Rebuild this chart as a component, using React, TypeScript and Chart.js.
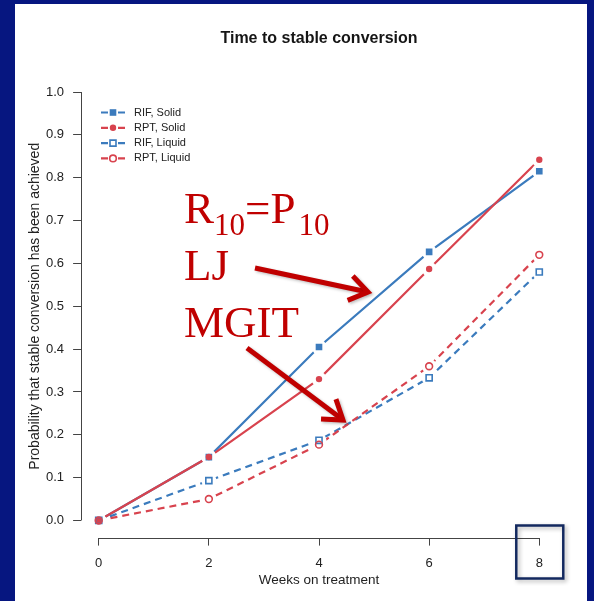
import React, { useEffect, useRef } from 'react';
import { Chart, registerables } from 'chart.js';

Chart.register(...registerables);

// ---- data ----
const weeks = [0, 2, 4, 6, 8];
const rifSolid = [0.0, 0.148, 0.405, 0.627, 0.815];
const rptSolid = [0.0, 0.148, 0.33, 0.587, 0.842];
const rifLiquid = [0.0, 0.093, 0.187, 0.333, 0.58];
const rptLiquid = [0.0, 0.05, 0.177, 0.36, 0.62];
const seriesLabels = ['RIF, Solid', 'RPT, Solid', 'RIF, Liquid', 'RPT, Liquid'];
const xTickValues = [0, 2, 4, 6, 8];
const yTickValues = [0, 0.1, 0.2, 0.3, 0.4, 0.5, 0.6, 0.7, 0.8, 0.9, 1.0];
const chartTitle = 'Time to stable conversion';
const xTitle = 'Weeks on treatment';
const yTitle = 'Probability that stable conversion has been achieved';
const annotationLines = ['LJ', 'MGIT'];

// ---- styles ----
const BLUE = '#3b7bbd';
const RED = '#d8434e';
const ANN_RED = '#c00000';
const SANS = '"Liberation Sans", Arial, sans-serif';
const SERIF = '"Liberation Serif", "Times New Roman", serif';

type Series = { label: string; values: number[]; color: string; dashed: boolean; shape: 'rect' | 'circle'; filled: boolean };
const series: Series[] = [
  { label: seriesLabels[0], values: rifSolid, color: BLUE, dashed: false, shape: 'rect', filled: true },
  { label: seriesLabels[1], values: rptSolid, color: RED, dashed: false, shape: 'circle', filled: true },
  { label: seriesLabels[2], values: rifLiquid, color: BLUE, dashed: true, shape: 'rect', filled: false },
  { label: seriesLabels[3], values: rptLiquid, color: RED, dashed: true, shape: 'circle', filled: false },
];

function drawMarker(ctx: CanvasRenderingContext2D, s: Series, x: number, y: number) {
  ctx.save();
  ctx.setLineDash([]);
  ctx.lineWidth = 1.6;
  ctx.strokeStyle = s.color;
  ctx.fillStyle = s.color;
  ctx.beginPath();
  if (s.shape === 'rect') {
    const h = s.filled ? 3.3 : 3;
    ctx.rect(x - h, y - h, 2 * h, 2 * h);
  } else {
    ctx.arc(x, y, s.filled ? 3.2 : 3.3, 0, Math.PI * 2);
  }
  if (s.filled) ctx.fill();
  else ctx.stroke();
  ctx.restore();
}

function arrow(ctx: CanvasRenderingContext2D, x1: number, y1: number, x2: number, y2: number) {
  const a = Math.atan2(y2 - y1, x2 - x1);
  const L = 22;
  const sp = 0.6;
  ctx.beginPath();
  ctx.moveTo(x1, y1);
  ctx.lineTo(x2 - 1.5 * Math.cos(a), y2 - 1.5 * Math.sin(a));
  ctx.stroke();
  ctx.beginPath();
  ctx.moveTo(x2 - L * Math.cos(a - sp), y2 - L * Math.sin(a - sp));
  ctx.lineTo(x2, y2);
  ctx.lineTo(x2 - L * Math.cos(a + sp), y2 - L * Math.sin(a + sp));
  ctx.stroke();
}

export default function App() {
  const ref = useRef<HTMLCanvasElement | null>(null);

  useEffect(() => {
    const canvas = ref.current;
    if (!canvas) return;
    Chart.defaults.font.family = SANS;

    const lineSets = series.map((s, i) => ({
      type: 'line' as const,
      label: s.label,
      data: weeks.map((w, k) => ({ x: w, y: s.values[k] })),
      borderColor: s.color,
      backgroundColor: s.color,
      borderWidth: 2.2,
      borderDash: s.dashed ? [7, 5] : [],
      pointRadius: 0,
      pointHoverRadius: 0,
      fill: false,
      tension: 0,
      order: 13 - i,
      isPoints: false,
    }));
    const pointSets = series.map((s, i) => ({
      type: 'line' as const,
      label: s.label + ' pts',
      data: weeks.map((w, k) => ({ x: w, y: s.values[k] })),
      showLine: false,
      borderColor: s.color,
      pointStyle: s.shape,
      pointRadius: s.shape === 'rect' ? (s.filled ? 4.7 : 4.3) : (s.filled ? 3.2 : 3.4),
      pointBorderWidth: s.filled ? 0 : 1.6,
      pointBorderColor: s.color,
      pointBackgroundColor: s.filled ? s.color : 'rgba(0,0,0,0)',
      order: 4 - i,
      isPoints: true,
    }));

    let erased = false;
    const customPlugin = {
      id: 'custom',
      beforeDraw() {
        erased = false;
      },
      beforeDatasetDraw(chart: any, args: any) {
        const ds = chart.data.datasets[args.index];
        if (!ds.isPoints || erased) return;
        erased = true;
        const ctx = chart.ctx as CanvasRenderingContext2D;
        ctx.save();
        ctx.globalCompositeOperation = 'destination-out';
        ctx.fillStyle = '#000';
        chart.data.datasets.forEach((d: any, di: number) => {
          if (!d.isPoints) return;
          const meta = chart.getDatasetMeta(di);
          meta.data.forEach((el: any) => {
            ctx.beginPath();
            ctx.arc(el.x, el.y, 7.5, 0, Math.PI * 2);
            ctx.fill();
          });
        });
        ctx.restore();
      },
      afterDraw(chart: any) {
        const ctx = chart.ctx as CanvasRenderingContext2D;
        const xs = chart.scales.x;
        const ys = chart.scales.y;
        const area = chart.chartArea;
        // R-style axis lines (from first to last tick)
        ctx.save();
        ctx.strokeStyle = '#444';
        ctx.lineWidth = 1;
        ctx.beginPath();
        const ax = Math.round(area.left) + 0.5;
        ctx.moveTo(ax, ys.getPixelForValue(yTickValues[0]));
        ctx.lineTo(ax, ys.getPixelForValue(yTickValues[yTickValues.length - 1]));
        const ay = Math.round(area.bottom) + 0.5;
        ctx.moveTo(xs.getPixelForValue(xTickValues[0]), ay);
        ctx.lineTo(xs.getPixelForValue(xTickValues[xTickValues.length - 1]), ay);
        ctx.stroke();
        ctx.restore();

        // legend
        const lx1 = 101, lx2 = 125, lmid = 113, tx = 134;
        const rowY = [112.5, 127.8, 143.1, 158.4];
        series.forEach((s, i) => {
          const y = rowY[i];
          ctx.save();
          ctx.strokeStyle = s.color;
          ctx.lineWidth = 2.2;
          ctx.beginPath();
          ctx.moveTo(lx1, y);
          ctx.lineTo(lmid - 5, y);
          ctx.moveTo(lmid + 5, y);
          ctx.lineTo(lx2, y);
          ctx.stroke();
          ctx.restore();
          drawMarker(ctx, s, lmid, y);
          ctx.save();
          ctx.fillStyle = '#222';
          ctx.font = `11px ${SANS}`;
          ctx.textBaseline = 'middle';
          ctx.textAlign = 'left';
          ctx.fillText(s.label, tx, y);
          ctx.restore();
        });

        // annotation text
        ctx.save();
        ctx.fillStyle = ANN_RED;
        ctx.textBaseline = 'alphabetic';
        ctx.textAlign = 'left';
        const big = `45px ${SERIF}`;
        const small = `31px ${SERIF}`;
        let x = 184;
        const parts: [string, string, number][] = [
          ['R', big, 223], ['10', small, 235], ['=', big, 223], ['P', big, 223], ['10', small, 235],
        ];
        parts.forEach(([t, f, by], idx) => {
          ctx.font = f;
          if (idx === 4) x += 3;
          ctx.fillText(t, x, by);
          x += ctx.measureText(t).width;
        });
        ctx.font = big;
        ctx.fillText(annotationLines[0], 184, 280);
        ctx.fillText(annotationLines[1], 184, 337);
        ctx.restore();

        // arrows
        ctx.save();
        ctx.strokeStyle = ANN_RED;
        ctx.lineWidth = 5;
        ctx.lineCap = 'butt';
        ctx.lineJoin = 'miter';
        ctx.shadowColor = 'rgba(0,0,0,0.25)';
        ctx.shadowBlur = 3;
        ctx.shadowOffsetX = 1.5;
        ctx.shadowOffsetY = 1.5;
        arrow(ctx, 255, 268, 368, 292);
        arrow(ctx, 247, 348, 343, 420);
        ctx.restore();

        // highlight box around last x tick
        ctx.save();
        ctx.strokeStyle = '#13295f';
        ctx.lineWidth = 2.5;
        ctx.shadowColor = 'rgba(0,0,0,0.3)';
        ctx.shadowBlur = 4;
        ctx.shadowOffsetX = 2;
        ctx.shadowOffsetY = 2;
        const bx = xs.getPixelForValue(xTickValues[xTickValues.length - 1]);
        ctx.strokeRect(bx - 23, 525.5, 47, 53);
        ctx.restore();
      },
    };

    const chart = new Chart(canvas, {
      type: 'line',
      data: { datasets: [...lineSets, ...pointSets] as any },
      options: {
        animation: false,
        responsive: false,
        events: [],
        layout: { padding: { top: 4, left: 18, right: 37.1, bottom: 0 } },
        plugins: {
          legend: { display: false },
          tooltip: { enabled: false },
          title: {
            display: true,
            fullSize: false,
            text: chartTitle,
            color: '#151515',
            font: { size: 16, weight: 'bold', family: SANS },
            padding: { top: 25, bottom: 26.7 },
          },
        },
        scales: {
          x: {
            type: 'linear',
            min: -0.32,
            max: 8.32,
            afterBuildTicks: (s: any) => { s.ticks = xTickValues.map((v) => ({ value: v })); },
            afterFit: (s: any) => { s.height = 63.4; },
            grid: { drawOnChartArea: false, drawTicks: true, tickLength: 8, color: '#444', lineWidth: 1 },
            border: { display: false },
            ticks: { color: '#222', font: { size: 13 }, padding: 10, autoSkip: false, maxRotation: 0, callback: (v: any) => String(v) },
            title: { display: true, text: xTitle, color: '#222', font: { size: 13.5 }, padding: { top: 0, bottom: 13 } },
          },
          y: {
            type: 'linear',
            min: -0.04,
            max: 1.04,
            afterBuildTicks: (s: any) => { s.ticks = yTickValues.map((v) => ({ value: v })); },
            afterFit: (s: any) => { s.width = 63.1; },
            grid: { drawOnChartArea: false, drawTicks: true, tickLength: 8, color: '#444', lineWidth: 1 },
            border: { display: false },
            ticks: { color: '#222', font: { size: 13 }, padding: 9, autoSkip: false, callback: (v: any) => Number(v).toFixed(1) },
            title: { display: true, text: yTitle, color: '#222', font: { size: 14 }, padding: { top: 8.5, bottom: 0 } },
          },
        },
      } as any,
      plugins: [customPlugin],
    });
    return () => chart.destroy();
  }, []);

  return (
    <div style={{ position: 'fixed', left: 0, top: 0, width: 594, height: 601, background: '#061680', overflow: 'hidden' }}>
      <div style={{ position: 'absolute', left: 15, top: 4, width: 572, height: 597, background: '#ffffff' }} />
      <canvas ref={ref} width={594} height={601} style={{ position: 'absolute', left: 0, top: 0, width: 594, height: 601 }} />
    </div>
  );
}
